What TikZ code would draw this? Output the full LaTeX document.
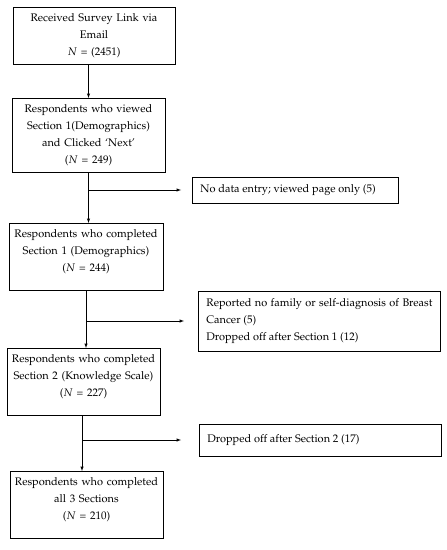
\documentclass[tikz,border=0pt]{standalone}
\usepackage[T1]{fontenc}
\usepackage{mathpazo}
\usepackage{tikz}
\usetikzlibrary{arrows,positioning}
\newcommand{\flowfont}{\fontsize{11bp}{17bp}\selectfont}

\begin{document}
\begin{tikzpicture}[x=1bp, y=-1bp, >=latex,
    stage/.style={draw, line width=0.7pt, align=center, inner xsep=4bp, inner ysep=6.5bp, anchor=north, font=\flowfont},
    loss/.style={draw, line width=0.8pt, align=justify, inner xsep=8bp, inner ysep=5bp, anchor=west, font=\flowfont},
    flow/.style={->, line width=0.5pt}]
    \useasboundingbox (0,0) rectangle (447,550);

    \node[stage, text width=154bp] (b1) at (94,7) {Received Survey Link via\\ Email\\ $N$ = (2451)};
    \node[stage, text width=145bp] (b2) at (88.5,98) {Respondents who viewed\\ Section 1(Demographics)\\ and Clicked `Next'\\ ($N$ = 249)};
    \node[stage, text width=146bp] (b3) at (86,223) {Respondents who completed\\ Section 1 (Demographics)\\ ($N$ = 244)\\[-5bp]~};
    \node[stage, text width=145bp] (b4) at (83.5,348) {Respondents who completed\\ Section 2 (Knowledge Scale)\\ ($N$ = 227)\\[-5bp]~};
    \node[stage, text width=145bp] (b5) at (86.5,471) {Respondents who completed\\ all 3 Sections\\ ($N$ = 210)\\[-5bp]~};

    \node[loss, text width=190bp, minimum height=26bp] (r1) at (192,190) {No data entry; viewed page only (5)};
    \node[loss, text width=226bp, minimum height=60bp] (r2) at (198,321) {Reported no family or self-diagnosis of Breast Cancer (5)\\ Dropped off after Section 1 (12)};
    \node[loss, text width=226bp, minimum height=32bp] (r3) at (199,440) {Dropped off after Section 2 (17)};

    % main flow
    \coordinate (c4) at ([xshift=-1.5bp]b4.south);
    \draw[flow] (b1.south -| b2.north) -- (b2.north);
    \draw[flow] (b2.south) -- (b2.south |- b3.north);
    \draw[flow] (b3.south) -- (b3.south |- b4.north);
    \draw[flow] (c4) -- (c4 |- b5.north);

    % exclusions
    \coordinate (e1) at ([xshift=-11bp]r1.west);
    \coordinate (e2) at ([xshift=-14bp]r2.west);
    \coordinate (e3) at ([xshift=-18bp]r3.west);
    \draw[flow] (b2.south |- r1.west) -- (e1);
    \draw[flow] (b3.south |- r2.west) -- (e2);
    \draw[flow] (c4 |- r3.west) -- (e3);
\end{tikzpicture}
\end{document}
